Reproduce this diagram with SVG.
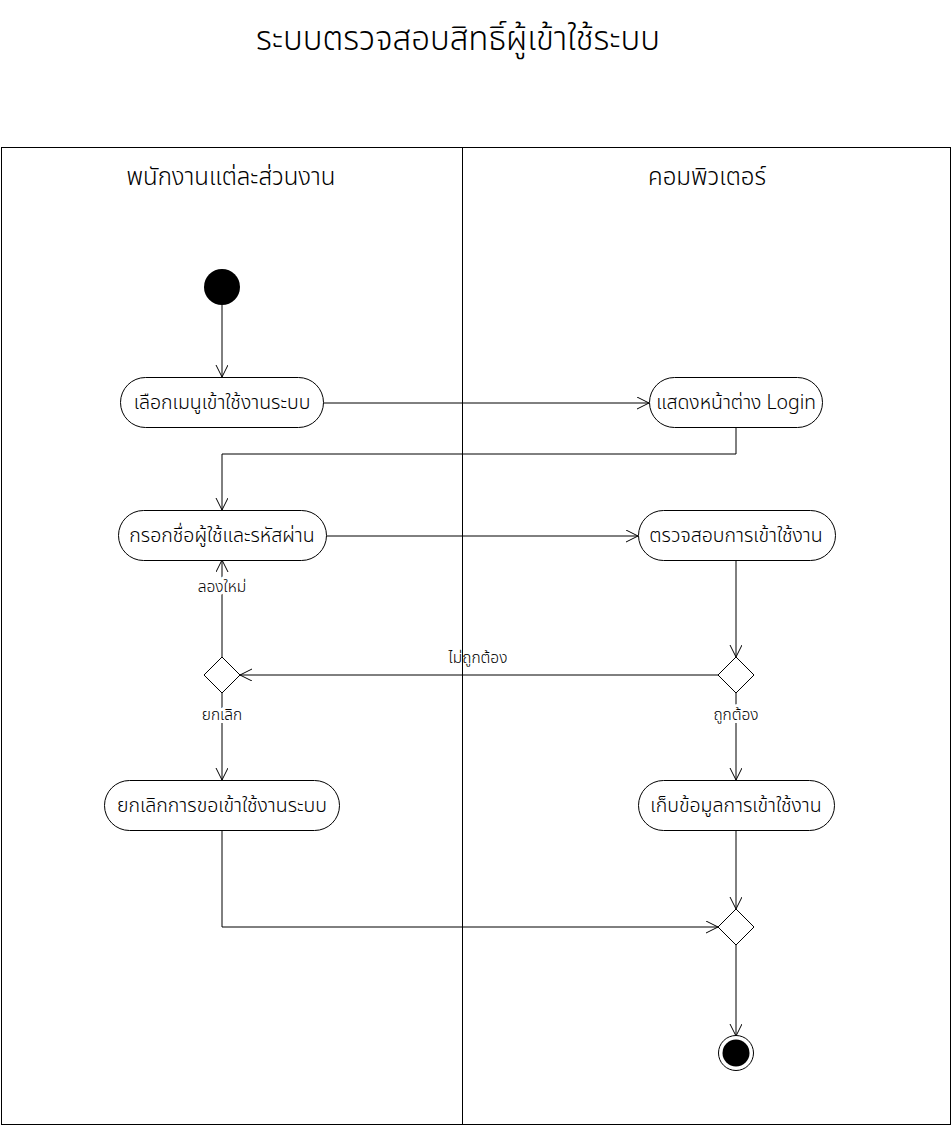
<svg xmlns="http://www.w3.org/2000/svg" width="952" height="1126" viewBox="0 0 952 1126">
<defs>
<marker id="arr" markerWidth="14" markerHeight="14" refX="12" refY="6" orient="auto" markerUnits="userSpaceOnUse">
<path d="M0,0 L12,6 L0,12" fill="none" stroke="#000" stroke-width="1"/>
</marker>
<style>
text{font-family:"Noto Sans Thai","Noto Sans","Liberation Sans","DejaVu Sans",sans-serif;fill:#000;font-weight:300}
.node{fill:#fff;stroke:#000;stroke-width:1}
.lbl{font-size:19.5px;text-anchor:middle;dominant-baseline:central}
.sm{font-size:15.5px;text-anchor:middle;dominant-baseline:central}
.hdr{font-size:24px;text-anchor:middle;dominant-baseline:central}
.edge{fill:none;stroke:#000;stroke-width:1;marker-end:url(#arr)}
.line{fill:none;stroke:#000;stroke-width:1}
</style>
</defs>
<rect width="952" height="1126" fill="#fff"/>
<text x="458" y="40" style="font-size:33px;text-anchor:middle;dominant-baseline:central">ระบบตรวจสอบสิทธิ์ผู้เข้าใช้ระบบ</text>
<g id="lanes">
<rect x="1.5" y="147.5" width="949" height="977" class="line"/>
<line x1="462.5" y1="147.5" x2="462.5" y2="1124.5" class="line"/>
<text x="231" y="178" class="hdr">พนักงานแต่ละส่วนงาน</text>
<text x="707" y="178" class="hdr">คอมพิวเตอร์</text>
</g>
<g id="connectors">
<path d="M222,305 L222,377" class="edge"/>
<path d="M323,403 L649,403" class="edge"/>
<path d="M736,427 L736,454 L222,454 L222,510" class="edge"/>
<path d="M326,536 L638,536" class="edge"/>
<path d="M736,560 L736,657" class="edge"/>
<path d="M718,675 L240,675" class="edge"/>
<path d="M222,657 L222,560" class="edge"/>
<path d="M222,693 L222,780" class="edge"/>
<path d="M736,693 L736,780" class="edge"/>
<path d="M736,830 L736,909" class="edge"/>
<path d="M222,830 L222,927 L718,927" class="edge"/>
<path d="M736,945 L736,1036" class="edge"/>
<text x="478" y="658" class="sm">ไม่ถูกต้อง</text>
<text x="222" y="587" class="sm" stroke="#fff" stroke-width="6" paint-order="stroke">ลองใหม่</text>
<text x="222" y="715" class="sm" stroke="#fff" stroke-width="6" paint-order="stroke">ยกเลิก</text>
<text x="736" y="715" class="sm" stroke="#fff" stroke-width="6" paint-order="stroke">ถูกต้อง</text>
</g>
<g id="start"><circle cx="222" cy="287" r="18" fill="#000"/></g>
<g id="n1"><rect x="120.5" y="377.5" width="203" height="50" rx="25" class="node"/><text x="222" y="403" class="lbl">เลือกเมนูเข้าใช้งานระบบ</text></g>
<g id="n2"><rect x="649.5" y="377.5" width="173" height="50" rx="25" class="node"/><text x="736" y="403" class="lbl">แสดงหน้าต่าง Login</text></g>
<g id="n3"><rect x="118.5" y="510.5" width="208" height="50" rx="25" class="node"/><text x="222" y="536" class="lbl">กรอกชื่อผู้ใช้และรหัสผ่าน</text></g>
<g id="n4"><rect x="638.5" y="510.5" width="197" height="50" rx="25" class="node"/><text x="736" y="536" class="lbl">ตรวจสอบการเข้าใช้งาน</text></g>
<g id="d1"><path d="M222,657 L240,675 L222,693 L204,675 Z" class="node"/></g>
<g id="d2"><path d="M736,657 L754,675 L736,693 L718,675 Z" class="node"/></g>
<g id="n5"><rect x="104.5" y="780.5" width="235" height="50" rx="25" class="node"/><text x="222" y="806" class="lbl">ยกเลิกการขอเข้าใช้งานระบบ</text></g>
<g id="n6"><rect x="638.5" y="780.5" width="196" height="50" rx="25" class="node"/><text x="736" y="806" class="lbl">เก็บข้อมูลการเข้าใช้งาน</text></g>
<g id="d3"><path d="M736,909 L754,927 L736,945 L718,927 Z" class="node"/></g>
<g id="end"><circle cx="736" cy="1053" r="17.5" fill="#fff" stroke="#000" stroke-width="1"/><circle cx="736" cy="1053" r="13.5" fill="#000"/></g>
</svg>
